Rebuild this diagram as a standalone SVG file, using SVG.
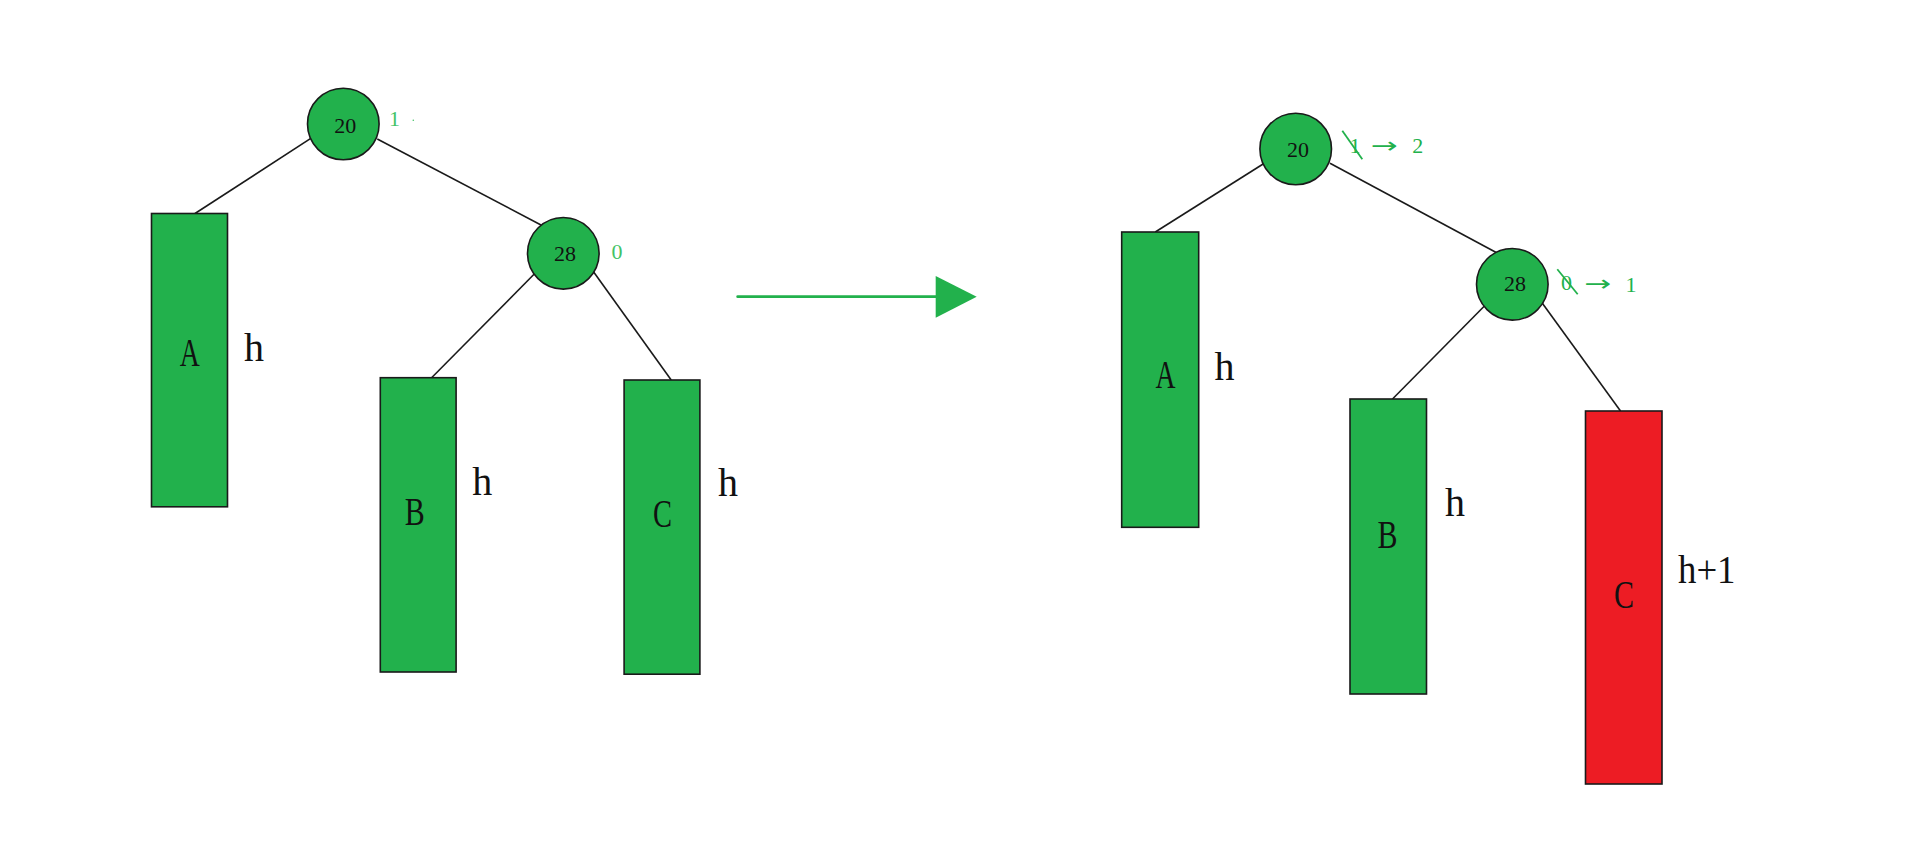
<svg xmlns="http://www.w3.org/2000/svg" width="1915" height="855" viewBox="0 0 1915 855">
<style>
.bg{fill:#ffffff}
.node{fill:#22b14c;stroke:#1a1a1a;stroke-width:1.6}
.red{fill:#ed1c24;stroke:#1a1a1a;stroke-width:1.6}
.edge{stroke:#1a1a1a;stroke-width:1.6;fill:none}
.num{font-family:"Liberation Serif",serif;font-size:22px;fill:#111;text-anchor:middle}
.big{font-family:"Liberation Serif",serif;font-size:40px;fill:#111}
.mid{text-anchor:middle}
.bf{font-family:"Liberation Serif",serif;font-size:22px;fill:#43c366}
.gf{font-family:"Liberation Serif",serif;font-size:22px;fill:#22b14c}
.arr{font-family:"DejaVu Sans",sans-serif;font-size:22px;fill:#22b14c}
.strike{stroke:#22b14c;stroke-width:1.8}
</style>
<rect class="bg" x="0" y="0" width="1915" height="855"/>

<g id="connectors">
  <line class="edge" x1="315" y1="135.7" x2="195" y2="213.5"/>
  <line class="edge" x1="377.3" y1="139" x2="541" y2="225"/>
  <line class="edge" x1="535" y1="273.3" x2="431.6" y2="377.7"/>
  <line class="edge" x1="591.7" y1="269.3" x2="671.2" y2="380"/>
  <line class="edge" x1="1266.7" y1="161.7" x2="1155.3" y2="232"/>
  <line class="edge" x1="1330" y1="163.3" x2="1496.7" y2="252.7"/>
  <line class="edge" x1="1485.4" y1="305" x2="1392.5" y2="399"/>
  <line class="edge" x1="1540" y1="300" x2="1620.5" y2="411"/>
  <g id="transition-arrow">
    <line x1="737.7" y1="296.7" x2="937" y2="296.7" stroke="#22b14c" stroke-width="2.8" stroke-linecap="round"/>
    <polygon points="935.7,276 976.7,296.7 935.7,317.7" fill="#22b14c"/>
  </g>
</g>

<!-- Left tree -->
<g id="L-node20">
  <circle class="node" cx="343.3" cy="124" r="35.8"/>
  <text class="num" x="345.3" y="132.7">20</text>
  <text class="bf" x="389" y="125.7">1</text>
  <circle cx="413.3" cy="120.3" r="0.8" fill="#43c366"/>
</g>
<g id="L-node28">
  <circle class="node" cx="563.3" cy="253.3" r="35.8"/>
  <text class="num" x="565" y="260.7">28</text>
  <text class="bf" x="611.5" y="259">0</text>
</g>
<g id="L-A">
  <rect class="node" x="151.5" y="213.5" width="76" height="293.3"/>
  <text class="big mid" x="189.8" y="365.7" textLength="20" lengthAdjust="spacingAndGlyphs">A</text>
  <text class="big" x="244" y="361">h</text>
</g>
<g id="L-B">
  <rect class="node" x="380.3" y="377.7" width="75.8" height="294.3"/>
  <text class="big mid" x="414.8" y="525" textLength="20" lengthAdjust="spacingAndGlyphs">B</text>
  <text class="big" x="472.2" y="495">h</text>
</g>
<g id="L-C">
  <rect class="node" x="624.1" y="380" width="75.8" height="294.2"/>
  <text class="big mid" x="662.4" y="526.7" textLength="19" lengthAdjust="spacingAndGlyphs">C</text>
  <text class="big" x="718" y="496">h</text>
</g>

<!-- Right tree -->
<g id="R-node20">
  <circle class="node" cx="1295.7" cy="149" r="35.8"/>
  <text class="num" x="1298" y="156.7">20</text>
  <text class="gf" x="1349.5" y="153.3">1</text>
  <line class="strike" x1="1342.3" y1="130.7" x2="1362.3" y2="159.3"/>
  <text class="arr" x="1371" y="153" textLength="27" lengthAdjust="spacingAndGlyphs">→</text>
  <text class="gf" x="1412.3" y="153.3">2</text>
</g>
<g id="R-node28">
  <circle class="node" cx="1512.3" cy="284.3" r="35.8"/>
  <text class="num" x="1515" y="291">28</text>
  <text class="gf" x="1561" y="290">0</text>
  <line class="strike" x1="1557.3" y1="269.3" x2="1577.7" y2="294.3"/>
  <text class="arr" x="1584.5" y="290.5" textLength="27" lengthAdjust="spacingAndGlyphs">→</text>
  <text class="gf" x="1625.5" y="292">1</text>
</g>
<g id="R-A">
  <rect class="node" x="1121.7" y="232" width="77" height="295.3"/>
  <text class="big mid" x="1165.4" y="388.3" textLength="20" lengthAdjust="spacingAndGlyphs">A</text>
  <text class="big" x="1214.6" y="380">h</text>
</g>
<g id="R-B">
  <rect class="node" x="1350" y="399" width="76.5" height="295"/>
  <text class="big mid" x="1387.5" y="548.3" textLength="20" lengthAdjust="spacingAndGlyphs">B</text>
  <text class="big" x="1445" y="516">h</text>
</g>
<g id="R-C">
  <rect class="red" x="1585.5" y="411" width="76.5" height="373"/>
  <text class="big mid" x="1624" y="608.3" textLength="20" lengthAdjust="spacingAndGlyphs">C</text>
  <text class="big" x="1678" y="582.7" textLength="57.5" lengthAdjust="spacingAndGlyphs">h+1</text>
</g>
</svg>
